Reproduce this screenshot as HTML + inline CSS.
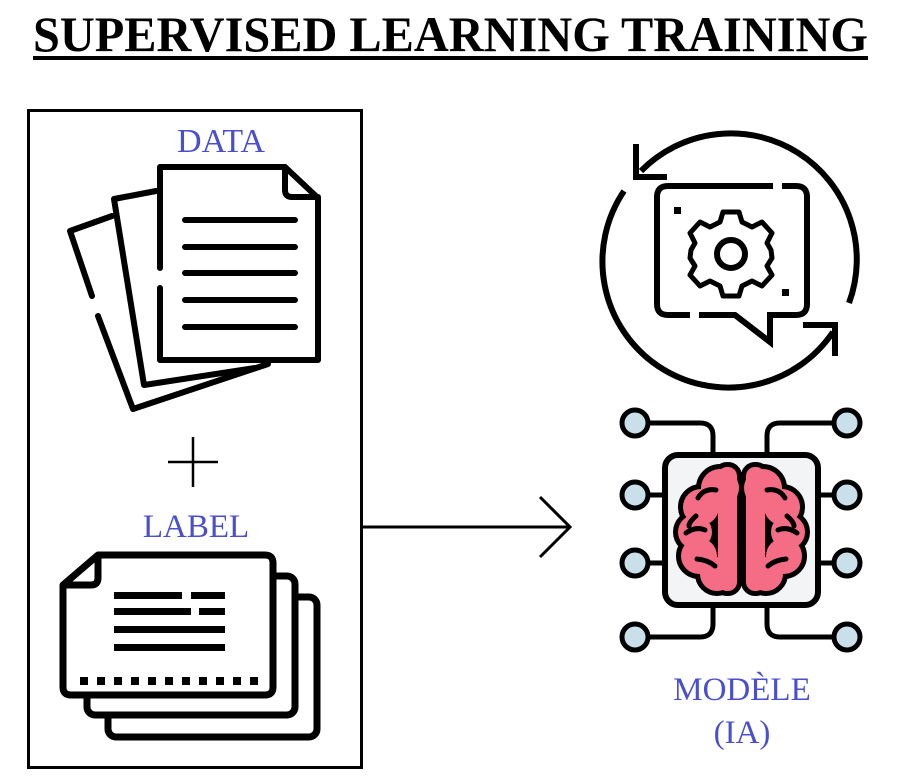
<!DOCTYPE html>
<html><head><meta charset="utf-8"><style>
html,body{margin:0;padding:0;background:#fff;}
svg{display:block;}
</style></head><body>
<svg width="913" height="780" viewBox="0 0 913 780" xmlns="http://www.w3.org/2000/svg">
<text x="33" y="51" font-family="Liberation Serif, serif" font-weight="bold" font-size="50" textLength="835" lengthAdjust="spacingAndGlyphs" fill="#000">SUPERVISED LEARNING TRAINING</text>
<rect x="33" y="56" width="835" height="4" fill="#000"/>

<rect x="28.5" y="110.5" width="333" height="657" fill="none" stroke="#000" stroke-width="3"/>

<g font-family="Liberation Serif, serif" fill="#4a4fcf" text-anchor="middle">
<text x="221" y="152" font-size="34">DATA</text>
<text x="196" y="537" font-size="33">LABEL</text>
<text x="742" y="700" font-size="33">MODÈLE</text>
<text x="742" y="743" font-size="33">(IA)</text>
</g>

<!-- documents -->
<g fill="none" stroke="#000" stroke-width="6" stroke-linecap="round" stroke-linejoin="round">
<path d="M112,216 L70,231 L92,296 M98,316 L133,409 L268,364"/>
<path d="M156,191 L114,199 L144,385 L255,368"/>
<path d="M160,268 V167 H285 L318,198 V360 H160 V288" fill="#fff"/>
<path d="M285,167 V190 Q285,197 292,197 H318"/>
<path d="M185,220H295M185,247H295M185,273H295M185,300H295M185,327H295"/>
</g>

<!-- plus -->
<g stroke="#000" stroke-width="2.5"><line x1="168" y1="462" x2="218" y2="462"/><line x1="193" y1="437" x2="193" y2="487"/></g>

<!-- label cards -->
<g fill="#fff" stroke="#000" stroke-width="7" stroke-linejoin="round">
<rect x="108" y="597" width="209" height="140" rx="8"/>
<rect x="87" y="576" width="208" height="139" rx="8"/>
<path d="M98,555 H265 Q273,555 273,563 V687 Q273,695 265,695 H71 Q63,695 63,687 V585 Z"/>
<path d="M98,555 V578 Q98,585 91,585 H63" fill="none"/>
</g>
<g fill="#000">
<rect x="114" y="592" width="68" height="7"/><rect x="191" y="592" width="34" height="7"/>
<rect x="114" y="608" width="77" height="7"/><rect x="199" y="608" width="26" height="7"/>
<rect x="114" y="626" width="111" height="7"/><rect x="114" y="644" width="111" height="7"/>
<rect x="80" y="677" width="8" height="8"/><rect x="97" y="677" width="8" height="8"/><rect x="114" y="677" width="8" height="8"/><rect x="131" y="677" width="8" height="8"/><rect x="148" y="677" width="8" height="8"/><rect x="165" y="677" width="8" height="8"/><rect x="182" y="677" width="8" height="8"/><rect x="199" y="677" width="8" height="8"/><rect x="216" y="677" width="8" height="8"/><rect x="233" y="677" width="8" height="8"/><rect x="250" y="677" width="8" height="8"/>
</g>

<!-- arrow -->
<g stroke="#000" stroke-width="3" fill="none"><line x1="362" y1="527" x2="569" y2="527"/><polyline points="540,497 570,527 540,557"/></g>

<!-- cycle/gear icon -->
<g fill="none" stroke="#000" stroke-width="6">
<path d="M641,171 A126,126 0 0 1 849,303"/>
<path d="M833,332 A126,126 0 0 1 624,191"/>
<polyline points="636,147 636,177 664,177" stroke-linecap="square"/>
<polyline points="806,325 835,325 835,353" stroke-linecap="square"/>
<path d="M690,315 H668 Q657,315 657,304 V197 Q657,186 668,186 H773"/>
<path d="M782,186 H796 Q807,186 807,197 V304 Q807,315 796,315 H770 V342 L735,315 H699"/>
<circle cx="731" cy="254" r="14"/>
<path d="M723,212 L739,212 L742,222 L752,227 L762,222 L772,233 L767,243 L771,250 L772,258 L767,266 L772,275 L762,286 L752,281 L742,286 L739,296 L723,296 L720,286 L710,281 L700,286 L690,275 L695,266 L690,258 L691,250 L695,243 L690,233 L700,222 L710,227 L720,222 Z" stroke-width="5" stroke-linejoin="round"/>
</g>
<rect x="674" y="207" width="7" height="7" fill="#000"/><rect x="782" y="289" width="7" height="7" fill="#000"/>

<!-- brain chip -->
<g fill="none" stroke="#000" stroke-width="5" stroke-linecap="round">
<path d="M648,423 H700 Q713,423 713,436 V455"/>
<path d="M834,423 H780 Q767,423 767,436 V455"/>
<path d="M648,637 H700 Q713,637 713,624 V605"/>
<path d="M834,637 H780 Q767,637 767,624 V605"/>
<path d="M648,495H665M648,563H665M818,495H834M818,563H834"/>
</g>
<rect x="665" y="455" width="153" height="150" rx="13" fill="#f3f4f6" stroke="#000" stroke-width="6"/>
<g fill="#c9dfea" stroke="#000" stroke-width="5">
<circle cx="635" cy="423" r="13"/><circle cx="635" cy="495" r="13"/><circle cx="635" cy="563" r="13"/><circle cx="635" cy="637" r="13"/>
<circle cx="847" cy="423" r="13"/><circle cx="847" cy="495" r="13"/><circle cx="847" cy="563" r="13"/><circle cx="847" cy="637" r="13"/>
</g>
<g id="lobe">
<g fill="#f46d84" stroke="#000" stroke-width="10">
<circle cx="720" cy="488" r="19"/><circle cx="701" cy="507" r="18"/><circle cx="695" cy="532" r="17"/><circle cx="699" cy="556" r="18"/><circle cx="717" cy="574" r="17"/>
<rect x="718" y="467" width="19" height="124" rx="9"/>
</g>
<g fill="#f46d84">
<circle cx="720" cy="488" r="19"/><circle cx="701" cy="507" r="18"/><circle cx="695" cy="532" r="17"/><circle cx="699" cy="556" r="18"/><circle cx="717" cy="574" r="17"/>
<rect x="718" y="467" width="19" height="124" rx="9"/>
</g>
<g fill="none" stroke="#000" stroke-width="5" stroke-linecap="round">
<path d="M716,490 Q704,488 698,498"/><path d="M696,516 Q689,522 689,526"/><path d="M686,533 Q696,526 705,530"/><path d="M697,559 Q708,560 715,566"/>
</g>
</g>
<use href="#lobe" transform="translate(1483,0) scale(-1,1)"/>
</svg>
</body></html>
